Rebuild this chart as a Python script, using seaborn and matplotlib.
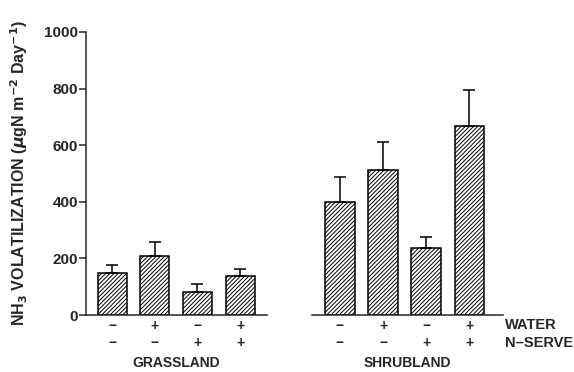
import matplotlib
matplotlib.use("Agg")
import matplotlib.pyplot as plt
import seaborn as sns
import pandas as pd

# treatment codes (water, n-serve)
water = ["\u2212", "+", "\u2212", "+"]
nserve = ["\u2212", "\u2212", "+", "+"]

grass_mean = [148, 210, 82, 138]
grass_se = [29, 48, 27, 26]
shrub_mean = [400, 512, 236, 668]
shrub_se = [87, 100, 41, 127]

yticks = [0, 200, 400, 600, 800, 1000]

sns.set_style("ticks")
plt.rcParams["font.family"] = ["Liberation Sans", "DejaVu Sans"]
plt.rcParams["font.weight"] = "bold"
plt.rcParams["hatch.linewidth"] = 0.7
plt.rcParams["hatch.color"] = "black"

fig = plt.figure(figsize=(5.74, 3.72), dpi=100)
ax1 = fig.add_axes([0.150, 0.153, 0.315, 0.761])
ax2 = fig.add_axes([0.5436, 0.153, 0.333, 0.761], sharey=ax1)

labels = [f"{w}\n{n}" for w, n in zip(water, nserve)]


def draw(ax, means, se, name):
    df = pd.DataFrame({"trt": labels, "val": means})
    sns.barplot(data=df, x="trt", y="val", ax=ax, color="white",
                edgecolor="black", linewidth=1.1, hatch="////////",
                width=0.68, errorbar=None, saturation=1)
    for p in ax.patches:
        p.set_facecolor("white")
    ax.errorbar(range(len(means)), means, yerr=[[0] * len(se), se],
                fmt="none", ecolor="black", elinewidth=1.1,
                capsize=4.5, capthick=1.1)
    ax.set_xlabel(name, fontsize=10, fontweight="bold", labelpad=4)
    ax.set_ylabel("")
    ax.tick_params(axis="x", length=0, pad=3, labelsize=10)
    for t in ax.get_xticklabels():
        t.set_linespacing(1.25)
    for s in ["top", "right"]:
        ax.spines[s].set_visible(False)
    ax.spines["bottom"].set_linewidth(1.1)


draw(ax1, grass_mean, grass_se, "GRASSLAND")
draw(ax2, shrub_mean, shrub_se, "SHRUBLAND")

ax1.set_xlim(-0.61, 3.63)
ax2.set_xlim(-0.65, 3.79)
ax1.set_ylim(0, 1000)
ax1.set_yticks(yticks)
ax1.tick_params(axis="y", length=5, width=1.1, labelsize=11, pad=1)
ax1.spines["left"].set_linewidth(1.1)
ax1.set_ylabel("NH$_3$ VOLATILIZATION ($\\mu$gN m$^{-2}$ Day$^{-1}$)",
               fontsize=11.5, fontweight="bold", labelpad=10)

ax2.spines["left"].set_visible(False)
ax2.tick_params(axis="y", left=False, labelleft=False)

fig.text(0.880, 0.126, "WATER", fontsize=10.5, fontweight="bold", va="center")
fig.text(0.880, 0.078, "N\u2013SERVE", fontsize=10.5, fontweight="bold", va="center")

fig.savefig("out.png", dpi=100)
